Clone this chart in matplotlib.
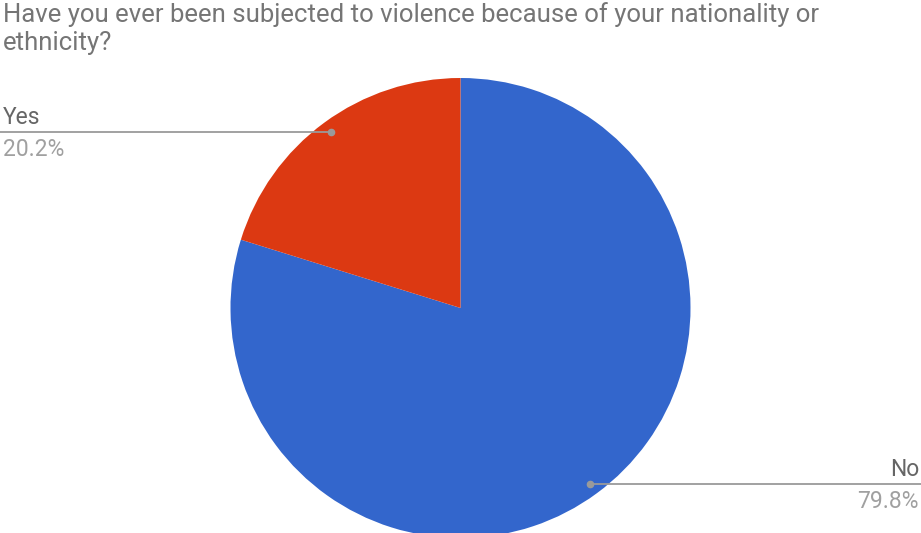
import numpy as np
import matplotlib
matplotlib.use("Agg")
import matplotlib.pyplot as plt

# Survey answers and their shares (percent)
labels = ["No", "Yes"]
shares = [79.8, 20.2]
colors = ["#3366cc", "#dc3912"]
title = ("Have you ever been subjected to violence because of your nationality or\n"
         "ethnicity?")

W, H = 921, 533
plt.rcParams["font.family"] = ["Roboto", "DejaVu Sans"]

fig = plt.figure(figsize=(W / 100, H / 100), dpi=100)
ax = fig.add_axes([0, 0, 1, 1])

cx, cy, R = 460.5, H - 308, 230
wedges, _ = ax.pie(shares, colors=colors, startangle=90, counterclock=False,
                   center=(cx, cy), radius=R, frame=True,
                   wedgeprops=dict(linewidth=0))
ax.set_xlim(0, W)
ax.set_ylim(0, H)
ax.set_aspect("equal")
ax.axis("off")

fs = 16.5
line_c = "#9a9a9a"
name_c = "#666666"
pct_c = "#a0a0a0"

for w, lab, val in zip(wedges, labels, shares):
    mid = np.deg2rad((w.theta1 + w.theta2) / 2)
    px = cx + 0.948 * R * np.cos(mid)
    py = cy + 0.948 * R * np.sin(mid)
    left = np.cos(mid) < 0
    xs = [0, px] if left else [px, W]
    tx, ha = (3, "left") if left else (W - 2, "right")
    ax.plot(xs, [py, py], color=line_c, lw=1.3, solid_capstyle="butt")
    ax.plot(px, py, "o", color=line_c, ms=4.5)
    ax.text(tx, py + 8, lab, ha=ha, va="baseline", fontsize=fs, color=name_c)
    ax.text(tx, py - 24, f"{val:.1f}%", ha=ha, va="baseline", fontsize=fs, color=pct_c)

fig.text(3 / W, 1 - 2 / H, title, ha="left", va="top", fontsize=18.5, color="#757575",
         linespacing=1.2)

fig.savefig("out.png", dpi=100)
